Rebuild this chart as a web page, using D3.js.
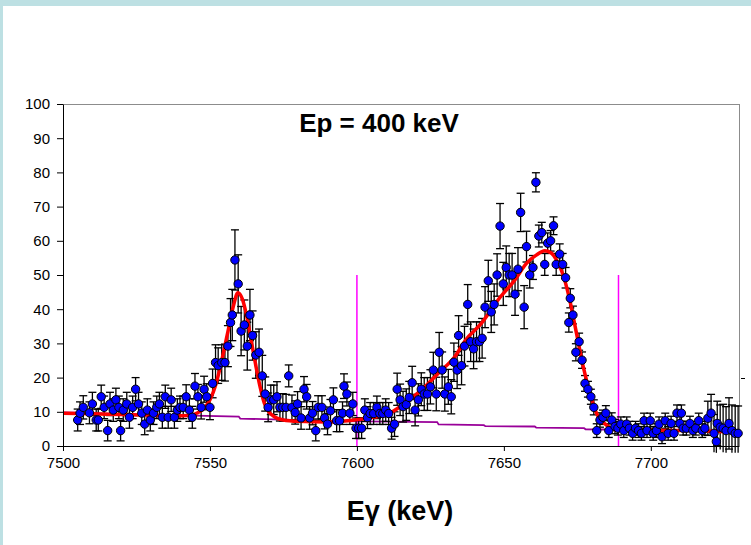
<!DOCTYPE html>
<html>
<head>
<meta charset="utf-8">
<script src="https://cdn.jsdelivr.net/npm/d3@7"></script>
<style>
  html, body { margin: 0; padding: 0; background: #ffffff; }
  svg { display: block; }
  text { font-family: Arial, "Liberation Sans", sans-serif; }
</style>
</head>
<body>
<svg id="chart" width="751" height="545"></svg>
<script>
// ---------------- DATA ----------------
const energy = [
  7505.0,7505.8,7506.9,7509.0,7510.0,7511.3,7512.0,7513.0,7514.0,7515.2,
  7516.0,7517.1,7518.0,7519.0,7519.6,7520.5,7521.7,7522.6,7523.7,7524.7,
  7525.7,7526.8,7527.8,7528.7,7529.7,7530.8,7531.9,7532.8,7533.8,7534.8,
  7535.8,7536.8,7537.9,7538.9,7539.8,7540.9,7541.9,7543.0,7544.0,7544.9,
  7545.9,7547.0,7548.0,7548.9,7550.0,7550.9,7551.9,7552.8,7554.0,7555.1,
  7556.1,7557.0,7557.6,7558.5,7559.6,7560.6,7561.7,7562.7,7563.6,7564.5,
  7565.6,7566.7,7567.8,7568.8,7569.8,7570.7,7571.7,7572.8,7573.8,7574.8,
  7575.9,7576.8,7577.9,7579.0,7579.8,7581.0,7582.0,7582.9,7583.9,7584.9,
  7586.0,7586.8,7588.1,7589.0,7590.0,7591.0,7592.0,7593.1,7594.1,7595.1,
  7595.6,7596.6,7597.6,7598.6,7599.7,7600.6,7601.6,7602.7,7603.6,7604.5,
  7605.7,7606.8,7607.8,7608.8,7609.8,7610.8,7611.8,7612.8,7613.7,7614.7,
  7615.7,7616.8,7617.8,7618.8,7619.8,7620.9,7621.9,7622.9,7624.0,7625.0,
  7626.0,7627.0,7628.0,7629.0,7629.9,7631.1,7632.1,7633.0,7634.1,7634.6,
  7635.6,7636.6,7637.7,7638.7,7639.7,7640.7,7641.7,7642.6,7643.6,7644.7,
  7645.7,7646.7,7647.7,7648.7,7649.8,7650.8,7651.8,7652.8,7653.8,7654.8,
  7655.7,7656.9,7657.7,7658.8,7659.9,7660.9,7661.9,7662.9,7663.9,7664.9,
  7665.9,7666.9,7667.8,7669.0,7670.0,7671.0,7672.1,7672.6,7673.5,7674.5,
  7675.6,7676.6,7677.6,7678.6,7679.6,7680.6,7681.6,7682.7,7683.7,7684.7,
  7685.7,7686.7,7687.8,7688.8,7689.8,7690.8,7691.8,7692.7,7693.8,7694.8,
  7695.8,7696.8,7697.7,7698.7,7699.8,7700.8,7701.9,7702.8,7703.8,7704.9,
  7705.9,7706.9,7707.9,7708.9,7709.9,7710.4,7711.0,7712.1,7713.3,7714.3,
  7715.3,7716.3,7717.5,7718.4,7719.4,7720.5,7721.5,7722.3,7722.6,7723.6,
  7724.6,7725.6,7726.6,7727.6,7728.7,7729.7
];
const counts = [
  7.6,9.6,11.3,9.7,12.3,7.6,7.6,14.4,11.3,4.5,
  12.3,10.5,13.5,11.3,4.5,10.5,12.3,8.4,11.3,16.6,
  12.3,9.6,6.4,10.5,7.6,9.6,11.3,12.3,8.4,14.4,
  8.4,13.5,8.4,10.5,11.3,11.3,14.4,10.5,8.4,17.5,
  14.4,11.3,16.6,14.4,11.3,18.3,24.4,23.5,24.4,24.4,
  29.2,36.1,38.3,54.4,47.4,33.6,35.4,29.2,38.3,32.3,
  26.6,27.4,20.5,15.2,11.3,13.5,13.5,14.4,11.3,11.3,
  11.3,20.5,11.3,9.8,12.3,8.2,16.6,14.4,8.2,9.6,
  4.5,11.3,11.3,8.2,6.4,10.3,13.5,7.4,7.4,9.6,
  17.5,15.2,9.6,12.3,5.2,5.2,5.2,10.5,8.3,9.5,
  9.5,11.3,9.5,9.5,10.5,9.5,5.2,6.4,16.6,13.5,
  11.5,12.1,14.2,18.5,10.5,13.5,16.6,15.2,15.2,17.3,
  22.2,15.2,27.4,22.2,15.2,17.3,14.4,24.5,22.2,32.3,
  23.5,29.2,41.4,30.5,28.4,30.5,30.5,31.5,40.6,48.3,
  39.2,41.4,50.0,64.3,47.4,52.2,50.0,50.0,44.4,51.7,
  68.3,40.6,58.3,50.0,52.2,77.1,61.4,62.4,53.1,59.3,
  60.0,64.4,53.1,56.1,53.1,49.2,36.1,43.2,38.3,27.4,
  30.5,25.1,18.3,16.6,14.4,11.3,4.5,7.6,8.4,9.6,
  4.5,7.6,5.7,5.2,6.4,4.5,6.4,5.2,3.7,5.2,
  4.5,3.7,7.4,4.5,7.4,3.7,4.5,6.4,2.7,7.4,
  3.7,6.6,3.7,9.6,6.6,9.6,5.2,5.2,6.6,4.5,
  5.2,7.4,4.5,5.2,8.1,9.6,3.7,1.3,6.6,5.5,
  5.2,4.5,6.6,4.5,3.7,3.7
];
const errors = [
  3.2,3.3,3.4,3.2,3.4,3.2,3.2,3.4,3.3,3.0,
  3.4,3.3,3.4,3.3,3.0,3.3,3.4,3.2,3.3,3.4,
  3.4,3.3,3.1,3.3,3.2,3.3,3.3,3.4,3.2,3.4,
  3.2,3.4,3.2,3.3,3.3,3.3,3.5,3.3,3.2,3.7,
  3.6,3.4,3.8,3.8,3.6,4.2,5.2,5.2,5.2,5.4,
  6.0,7.0,7.5,8.8,8.5,7.2,7.3,7.0,7.5,7.2,
  6.8,6.8,6.0,5.0,4.2,4.3,4.3,4.4,4.0,4.0,
  3.8,3.2,3.6,3.4,3.6,3.3,3.7,3.6,3.3,3.4,
  3.0,3.4,3.4,3.2,3.1,3.3,3.5,3.2,3.2,3.3,
  3.6,3.5,3.3,3.4,3.0,3.0,3.0,3.3,3.2,3.2,
  3.2,3.3,3.2,3.2,3.3,3.2,3.2,3.6,4.7,4.6,
  4.5,4.6,4.7,4.8,4.6,4.7,4.8,4.8,4.8,5.0,
  5.2,4.9,5.8,5.3,5.0,5.1,5.0,5.6,5.4,5.8,
  5.6,5.8,5.8,5.8,5.8,5.8,5.8,5.8,6.0,6.0,
  6.0,6.0,6.2,6.6,6.3,6.3,6.3,6.3,6.2,6.3,
  5.6,6.3,4.5,3.8,3.5,2.8,3.2,3.0,3.2,3.0,
  3.0,2.6,3.2,3.0,3.2,3.0,2.8,2.8,2.6,2.5,
  2.5,2.4,2.3,2.3,2.2,2.2,2.0,2.1,2.1,2.2,
  2.0,2.1,2.1,2.0,2.1,2.0,2.1,2.0,2.0,2.0,
  2.0,2.0,2.2,2.0,2.2,2.0,2.0,2.1,2.0,2.2,
  2.0,2.1,2.0,2.4,2.1,2.4,2.0,2.0,2.1,2.0,
  2.0,2.2,2.0,2.0,5.0,5.5,5.5,6.0,6.5,6.5,
  7.0,7.0,7.5,7.5,8.0,8.0
];
// fitted curve (red)
const fitE = [7500,7510,7520,7530,7538,7543,7546,7548,7550,7552,7554,7556,7558,7559.5,7561,7562.5,7564,7565.5,7567,7568.5,7570,7572,7575,7580,7590,7599,7605,7610.7,7616.3,7622,7627.7,7633.3,7637,7642.4,7648,7653.7,7657.7,7661,7663.9,7666,7667.9,7670.7,7672.4,7674.7,7677,7679.3,7681.5,7684.9,7688.3,7700,7715,7730];
const fitV = [9.6,9.4,9.2,9.0,8.8,8.9,9.8,11,13.5,18,25,33,41,44.8,43,38,31,24,17.5,12.5,10,8.5,7.6,7.2,7.0,7.6,8.3,9.4,12.5,16.4,21.3,26.1,31,35.9,42.7,48.5,53.4,55.8,57.1,56.5,54.4,48.5,42.7,33,23.2,15.4,9.6,6.1,4.7,4.6,4.5,3.9];
// background (purple) step line
const bgE = [7500,7530,7559.8,7560.3,7594,7627.3,7627.8,7643.2,7643.7,7660.5,7661,7677.3,7677.8,7700,7730];
const bgV = [9.8,9.2,8.6,8.0,7.3,7.0,6.3,6.1,5.8,5.7,5.4,5.2,4.9,4.6,4.2];
// region markers (magenta)
const markerE = [7600, 7689];
const markerTop = 50;
const xTicks = [7500, 7550, 7600, 7650, 7700];
const yTicks = [0, 10, 20, 30, 40, 50, 60, 70, 80, 90, 100];
const titleText = "Ep = 400 keV";
const xTitle = "Eγ (keV)";

// ---------------- DRAW ----------------
const svg = d3.select("#chart");
svg.append("rect").attr("x", 0).attr("y", 0).attr("width", 751).attr("height", 545).attr("fill", "#bde0e3");
svg.append("rect").attr("x", 3).attr("y", 6).attr("width", 748).attr("height", 539).attr("fill", "#ffffff");

const x = d3.scaleLinear().domain([7500, 7730]).range([63, 739]);
const y = d3.scaleLinear().domain([0, 100]).range([446, 104]);

// plot frame (gray top/right)
svg.append("line").attr("x1", 63).attr("x2", 739).attr("y1", 104.5).attr("y2", 104.5).attr("stroke", "#8c8c8c").attr("stroke-width", 1);
svg.append("line").attr("x1", 739.5).attr("x2", 739.5).attr("y1", 104).attr("y2", 446).attr("stroke", "#8c8c8c").attr("stroke-width", 1);
// odd small tick on the right side
svg.append("line").attr("x1", 741).attr("x2", 745).attr("y1", Math.round(y(20)) + 0.5).attr("y2", Math.round(y(20)) + 0.5).attr("stroke", "#000").attr("stroke-width", 1);

// magenta markers
svg.append("g").selectAll("line").data(markerE).join("line")
  .attr("x1", d => x(d)).attr("x2", d => x(d))
  .attr("y1", y(markerTop)).attr("y2", y(0))
  .attr("stroke", "#ff00ff").attr("stroke-width", 1.5);

// background line
const bgData = bgE.map((e, i) => [e, bgV[i]]);
svg.append("path").datum(bgData)
  .attr("fill", "none").attr("stroke", "#990099").attr("stroke-width", 1.8)
  .attr("d", d3.line().x(d => x(d[0])).y(d => y(d[1])));

// error bars
const pts = energy.map((e, i) => ({ e, v: counts[i], err: errors[i] }));
const eb = svg.append("g").attr("stroke", "#000").attr("stroke-width", 1.3);
eb.selectAll("line.v").data(pts).join("line").attr("class", "v")
  .attr("x1", d => x(d.e)).attr("x2", d => x(d.e))
  .attr("y1", d => y(d.v + d.err)).attr("y2", d => y(Math.max(d.v - d.err, -2)));
eb.selectAll("line.t").data(pts).join("line").attr("class", "t")
  .attr("x1", d => x(d.e) - 4).attr("x2", d => x(d.e) + 4)
  .attr("y1", d => y(d.v + d.err)).attr("y2", d => y(d.v + d.err));
eb.selectAll("line.b").data(pts.filter(d => d.v - d.err > -1)).join("line").attr("class", "b")
  .attr("x1", d => x(d.e) - 4).attr("x2", d => x(d.e) + 4)
  .attr("y1", d => y(d.v - d.err)).attr("y2", d => y(d.v - d.err));

// fit line
const fitData = fitE.map((e, i) => [e, fitV[i]]);
svg.append("path").datum(fitData)
  .attr("fill", "none").attr("stroke", "#ff0000").attr("stroke-width", 3.5)
  .attr("stroke-linejoin", "round")
  .attr("d", d3.line().x(d => x(d[0])).y(d => y(d[1])).curve(d3.curveMonotoneX));

// markers
svg.append("g").selectAll("circle").data(pts).join("circle")
  .attr("cx", d => x(d.e)).attr("cy", d => y(d.v)).attr("r", 4.2)
  .attr("fill", "#0000ff").attr("stroke", "#000").attr("stroke-width", 1);

// axes
const xAxis = d3.axisBottom(x).tickValues(xTicks).tickSize(5).tickSizeOuter(0).tickPadding(6).tickFormat(d3.format("d"));
const gx = svg.append("g").attr("transform", "translate(0,446)").call(xAxis);
gx.select(".domain").attr("stroke", "#000");
gx.selectAll(".tick line").attr("stroke", "#000");
gx.selectAll("text").attr("font-size", 15).attr("fill", "#000").attr("font-family", "Arial, 'Liberation Sans', sans-serif");

const yAxis = d3.axisLeft(y).tickValues(yTicks).tickSize(6).tickSizeOuter(0).tickPadding(7);
const gy = svg.append("g").attr("transform", "translate(63,0)").call(yAxis);
gy.select(".domain").attr("stroke", "#000");
gy.selectAll(".tick line").attr("stroke", "#000");
gy.selectAll("text").attr("font-size", 15).attr("fill", "#000").attr("font-family", "Arial, 'Liberation Sans', sans-serif");

// titles
svg.append("text").attr("x", 379).attr("y", 132).attr("text-anchor", "middle")
  .attr("font-size", 26).attr("font-weight", "bold").text(titleText);
svg.append("text").attr("x", 400).attr("y", 520).attr("text-anchor", "middle")
  .attr("font-size", 27).attr("font-weight", "bold").text(xTitle);
</script>
</body>
</html>
